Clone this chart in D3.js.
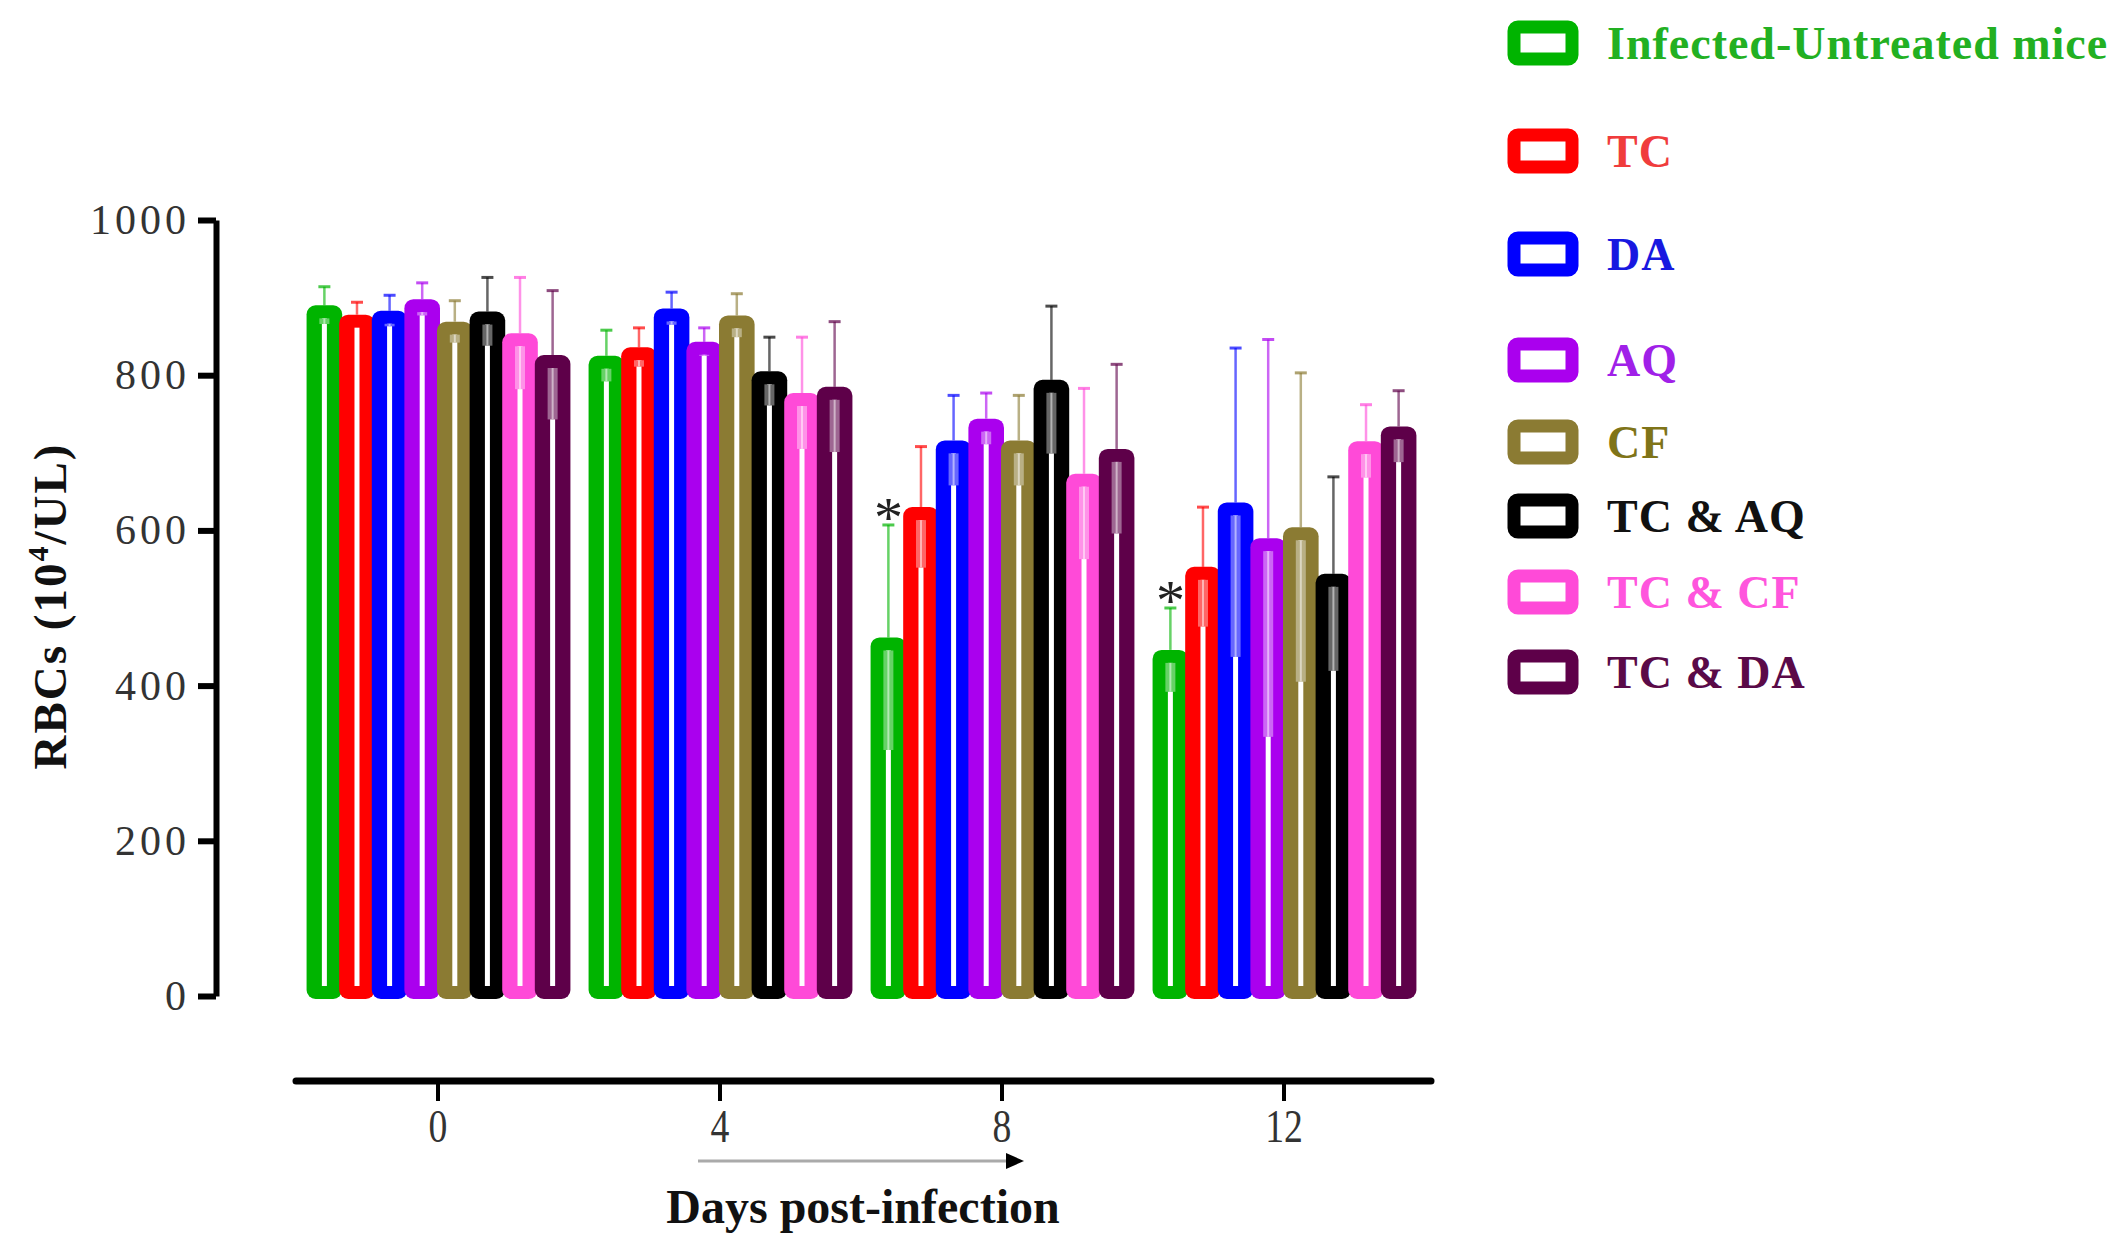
<!DOCTYPE html>
<html>
<head>
<meta charset="utf-8">
<script src="https://cdn.jsdelivr.net/npm/d3@7"></script>
<style>
  body { margin: 0; background: #fff; }
  svg { display: block; }
  text { font-family: "Liberation Serif", "Times New Roman", serif; }
</style>
</head>
<body>
<svg id="chart" width="2120" height="1237"></svg>
<script>
// days post-infection (x categories)
const days = ['0', '4', '8', '12'];
const groups = ['Infected-Untreated mice', 'TC', 'DA', 'AQ', 'CF', 'TC & AQ', 'TC & CF', 'TC & DA'];
const colors = ['#00b400', '#ff0000', '#0000ff', '#aa00ee', '#8b7b33', '#000000', '#ff4ad8', '#5e0049'];
const legendTextColors = ['#22b022', '#f03c3c', '#1818e0', '#a020e8', '#7f7418', '#111111', '#ff55dd', '#5a0a48'];

// mean RBCs (10^4/UL) per group, one value per day
const infectedMean = [890, 825, 462, 446];
const tcMean       = [878, 836, 630, 553];
const daMean       = [883, 886, 716, 636];
const aqMean       = [898, 843, 744, 590];
const cfMean       = [869, 877, 716, 604];
const tcAqMean     = [882, 805, 794, 544];
const tcCfMean     = [854, 777, 673, 715];
const tcDaMean     = [826, 785, 705, 734];

// SD per group, one value per day
const infectedSd = [24, 33, 145, 54];
const tcSd       = [16, 25, 78, 77];
const daSd       = [20, 21, 58, 199];
const aqSd       = [21, 18, 33, 256];
const cfSd       = [27, 28, 58, 199];
const tcAqSd     = [44, 44, 95, 125];
const tcCfSd     = [72, 72, 110, 47];
const tcDaSd     = [83, 84, 109, 46];

// significance marks (group index, day)
const starMarks = [{ g: 0, day: '8' }, { g: 0, day: '12' }];

const yTicks = [0, 200, 400, 600, 800, 1000];

const means = [infectedMean, tcMean, daMean, aqMean, cfMean, tcAqMean, tcCfMean, tcDaMean];
const sds = [infectedSd, tcSd, daSd, aqSd, cfSd, tcAqSd, tcCfSd, tcDaSd];

const svg = d3.select('#chart');

const y = d3.scaleLinear().domain([0, 1000]).range([996, 220]);
const x0 = d3.scaleBand().domain(days).range([297, 1425]).paddingInner(0.075).paddingOuter(0.0375);
const x1 = d3.scaleBand().domain(d3.range(groups.length)).range([0, x0.bandwidth()]);

const bars = [];
groups.forEach((g, gi) => {
  days.forEach((d, di) => {
    bars.push({ gi, day: d, v: means[gi][di], sd: sds[gi][di], color: colors[gi] });
  });
});
// draw left to right inside each group so each bar overlaps the one before
bars.sort((a, b) => days.indexOf(a.day) - days.indexOf(b.day) || a.gi - b.gi);

//bars
const barW = x1.bandwidth() + 3;
const inset = 13;
const barG = svg.append('g').attr('class', 'bars');
const bar = barG.selectAll('g.bar').data(bars).join('g')
  .attr('class', 'bar')
  .attr('transform', d => `translate(${x0(d.day) + x1(d.gi) - 1}, 0)`);

bar.append('rect')
  .attr('x', 0)
  .attr('y', d => y(d.v))
  .attr('width', barW)
  .attr('height', d => y(0) + 3 - y(d.v))
  .attr('rx', 9)
  .attr('fill', d => d.color);

// white slit inside
bar.append('rect')
  .attr('x', barW / 2 - 2.5)
  .attr('y', d => y(d.v) + inset)
  .attr('width', 5)
  .attr('height', d => y(0) + 3 - inset - (y(d.v) + inset))
  .attr('fill', '#fff');

// lower error bar inside the bar
bar.append('rect')
  .attr('x', barW / 2 - 5)
  .attr('y', d => y(d.v) + inset)
  .attr('width', 10)
  .attr('height', d => Math.max(0, y(d.v - d.sd) - y(d.v) - inset))
  .attr('fill', d => d3.interpolateRgb(d.color, '#fff')(0.4));

bar.append('line')
  .attr('x1', barW / 2).attr('x2', barW / 2)
  .attr('y1', d => y(d.v) + inset)
  .attr('y2', d => Math.max(y(d.v) + inset, y(d.v - d.sd)))
  .attr('stroke', d => d3.interpolateRgb(d.color, '#fff')(0.7))
  .attr('stroke-width', 2);

// upper error bar
bar.append('line')
  .attr('x1', barW / 2).attr('x2', barW / 2)
  .attr('y1', d => y(d.v))
  .attr('y2', d => y(d.v + d.sd))
  .attr('stroke', d => d.color)
  .attr('stroke-opacity', 0.6)
  .attr('stroke-width', 2.5);

bar.append('line')
  .attr('x1', barW / 2 - 6).attr('x2', barW / 2 + 6)
  .attr('y1', d => y(d.v + d.sd))
  .attr('y2', d => y(d.v + d.sd))
  .attr('stroke', d => d.color)
  .attr('stroke-opacity', 0.7)
  .attr('stroke-width', 3);

// asterisks
svg.append('g').selectAll('text').data(starMarks).join('text')
  .attr('x', d => x0(d.day) + x1(d.g) - 1 + barW / 2)
  .attr('y', d => y(means[d.g][days.indexOf(d.day)] + sds[d.g][days.indexOf(d.day)]) + 12)
  .attr('text-anchor', 'middle')
  .attr('font-size', 58)
  .attr('fill', '#222')
  .text('*');

//y axis
const yAxis = svg.append('g')
  .attr('transform', 'translate(216, 0)')
  .call(d3.axisLeft(y).tickValues(yTicks).tickFormat(d3.format('d')).tickSize(18).tickSizeOuter(0).tickPadding(8));
yAxis.select('.domain').attr('stroke', '#000').attr('stroke-width', 6);
yAxis.selectAll('.tick line').attr('stroke', '#000').attr('stroke-width', 6);
yAxis.selectAll('.tick text')
  .attr('font-family', '"Liberation Serif", serif')
  .attr('font-size', 42)
  .attr('letter-spacing', 4)
  .attr('fill', '#333');

svg.append('text')
  .attr('transform', 'translate(66, 606) rotate(-90)')
  .attr('text-anchor', 'middle')
  .attr('font-size', 47)
  .attr('font-weight', 'bold')
  .attr('letter-spacing', 2)
  .attr('fill', '#111')
  .call(t => {
    t.append('tspan').text('RBCs (10');
    t.append('tspan').attr('font-size', 30).attr('dy', -18).text('4');
    t.append('tspan').attr('dy', 18).text('/UL)');
  });

//x axis
const xAxis = svg.append('g')
  .attr('transform', 'translate(0, 1081)')
  .call(d3.axisBottom(x0).tickSize(20).tickSizeOuter(0).tickPadding(8));
xAxis.select('.domain').remove();
xAxis.insert('line', ':first-child')
  .attr('x1', 296).attr('x2', 1431)
  .attr('stroke', '#000').attr('stroke-width', 7).attr('stroke-linecap', 'round');
xAxis.selectAll('.tick line').attr('stroke', '#000').attr('stroke-width', 4);
xAxis.selectAll('.tick text')
  .attr('font-family', '"Liberation Serif", serif')
  .attr('font-size', 46)
  .attr('fill', '#333')
  .attr('transform', 'scale(0.82, 1)');

// arrow under the axis
svg.append('line')
  .attr('x1', 698).attr('x2', 1008)
  .attr('y1', 1161).attr('y2', 1161)
  .attr('stroke', '#aaa').attr('stroke-width', 3);
svg.append('path')
  .attr('d', 'M1006,1153 L1024,1161 L1006,1169 Z')
  .attr('fill', '#000');

svg.append('text')
  .attr('x', 863).attr('y', 1223)
  .attr('text-anchor', 'middle')
  .attr('font-size', 48)
  .attr('font-weight', 'bold')
  .attr('fill', '#111')
  .text('Days post-infection');

//legend
const legendRows = [43, 151, 254, 360, 442, 516, 592, 672];
const legend = svg.append('g').selectAll('g').data(groups).join('g')
  .attr('transform', (d, i) => `translate(0, ${legendRows[i]})`);
legend.append('rect')
  .attr('x', 1514).attr('y', -16)
  .attr('width', 58).attr('height', 32)
  .attr('rx', 4)
  .attr('fill', '#fff')
  .attr('stroke', (d, i) => colors[i])
  .attr('stroke-width', 13);
legend.append('text')
  .attr('x', 1607).attr('y', 16)
  .attr('font-size', 46)
  .attr('font-weight', 'bold')
  .attr('letter-spacing', 1)
  .attr('fill', (d, i) => legendTextColors[i])
  .text(d => d);
</script>
</body>
</html>
